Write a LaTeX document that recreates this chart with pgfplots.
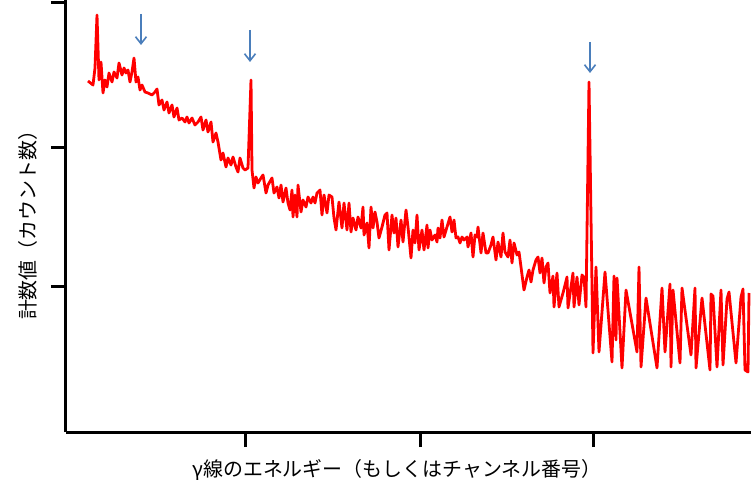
\documentclass[border=0pt]{standalone}
\usepackage{pgfplots}
\pgfplotsset{compat=1.18}
\usepackage{fontspec}
\setmainfont{Noto Sans CJK JP}
\usetikzlibrary{arrows.meta}
\definecolor{spec}{RGB}{255,0,0}
\definecolor{arr}{RGB}{74,126,187}
\begin{document}
\begin{tikzpicture}
\path[use as bounding box] (-66bp,-72bp) rectangle (685bp,432bp);
\begin{axis}[
  at={(0,0)}, anchor=south west,
  scale only axis, width=685bp, height=432bp,
  xmin=66, xmax=751, ymin=0, ymax=432,
  axis lines=left, axis line style={-, line width=3bp, black},
  tick align=outside, major tick length=15bp,
  tick style={line width=3bp, black},
  xtick={245,420,593}, ytick={145,284,429},
  xticklabels={,,}, yticklabels={,,},
  clip=false,
  every axis x label/.style={at={(axis description cs:0.483,0)}, yshift=-38bp, anchor=center},
  every axis y label/.style={at={(axis description cs:0,0.49)}, xshift=-38bp, anchor=center, rotate=90},
  xlabel={\fontsize{20}{23}\selectfont γ線のエネルギー（もしくはチャンネル番号）},
  ylabel={\fontsize{20}{23}\selectfont 計数値（カウント数）},
]
\addplot[color=spec, line width=2.8bp, line join=round, no markers] coordinates {
(88,351)(93,347)(95,364)(97,417)(99,352)(101,370)(103,339)(105,352)(107,345)(109,359)
(112,350)(114,360)(117,354)(119,369)(122,357)(124,364)(126,359)(128,362)(130,350)(132,360)
(134,374)(136,350)(138,355)(140,342)(142,347)(145,340)(148,339)(152,337)(155,340)(157,343)
(159,327)(162,332)(164,322)(167,330)(169,319)(172,327)(174,315)(177,324)(179,312)(182,314)
(185,310)(187,315)(189,309)(192,314)(195,307)(198,310)(201,315)(203,302)(206,312)(208,300)
(211,310)(213,290)(216,299)(218,290)(221,272)(223,279)(226,265)(228,274)(231,267)(233,275)
(236,265)(238,260)(240,274)(243,264)(245,262)(248,264)(251,352)(252,262)(254,244)(256,255)
(258,249)(261,254)(263,257)(266,239)(268,247)(272,254)(274,239)(277,245)(279,234)(281,247)
(283,230)(286,244)(288,229)(290,222)(292,242)(293,215)(295,237)(297,215)(298,247)(301,220)
(303,232)(306,225)(308,235)(311,229)(313,235)(315,229)(317,239)(320,242)(322,217)(324,237)
(327,219)(329,237)(332,235)(334,214)(336,202)(339,230)(342,204)(344,229)(347,202)(349,229)
(351,200)(353,214)(356,202)(358,215)(361,204)(363,225)(364,197)(367,209)(369,184)(371,225)
(373,204)(375,220)(377,210)(379,194)(382,205)(385,217)(387,219)(389,182)(392,217)(394,199)
(396,214)(398,185)(401,212)(403,190)(406,222)(408,205)(411,174)(413,202)(415,189)(417,217)
(419,182)(422,202)(424,182)(427,207)(428,184)(430,202)(432,192)(435,197)(437,190)(438,204)
(440,194)(442,212)(444,195)(447,205)(450,215)(452,200)(454,212)(456,194)(458,195)(460,189)
(462,195)(464,192)(467,195)(468,185)(471,199)(473,175)(475,197)(477,195)(478,205)(481,179)
(483,199)(486,179)(488,179)(491,187)(493,195)(496,172)(498,190)(501,175)(503,199)(505,180)
(508,175)(510,192)(512,169)(514,189)(517,177)(519,180)(521,165)(524,142)(527,155)(529,162)
(531,150)(533,162)(536,172)(538,175)(540,159)(542,174)(544,149)(546,165)(548,169)(550,139)
(553,156)(554,125)(557,159)(559,125)(563,139)(567,155)(568,124)(573,159)(574,125)(577,155)
(579,127)(582,157)(584,155)(586,125)(589,350)(593,79)(596,165)(599,80)(605,160)(612,70)
(614,156)(616,92)(617,154)(622,64)(626,142)(637,80)(639,165)(641,65)(646,134)(657,64)
(662,144)(665,80)(670,148)(671,65)(673,142)(680,69)(682,144)(691,77)(695,144)(696,64)
(702,134)(710,62)(711,138)(713,136)(717,65)(721,142)(723,67)(727,133)(729,140)(736,69)
(741,135)(743,143)(745,62)(748,60)(749,139)
};
\addplot[color=arr, line width=1.6bp, quiver={u=\thisrow{u}, v=\thisrow{v}},
  -{Straight Barb[length=7bp,width=11bp]}] table {
x y u v
141 418 0 -31
250 402 0 -32
590 390 0 -31
};
\end{axis}
\end{tikzpicture}
\end{document}
